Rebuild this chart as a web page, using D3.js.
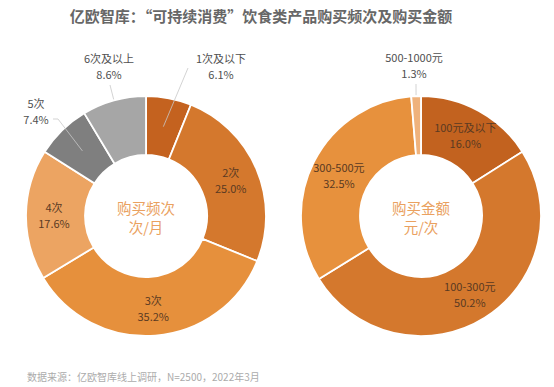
<!DOCTYPE html>
<html>
    <head>
        <meta charset="utf-8">
        <script src="https://d3js.org/d3.v7.js"></script>
        <style>
            body{
                margin: 0;
                background: #fff;
            }
            text{
                font-family: "Noto Sans CJK SC", "Noto Sans", sans-serif;
            }
        </style>
    </head>
    <body>
        <div class='graph'></div>
        <script>
            // 购买频次
            const freqLabels = ['1次及以下', '2次', '3次', '4次', '5次', '6次及以上']
            const freqValues = [6.1, 25.0, 35.2, 17.6, 7.4, 8.6]
            // 购买金额
            const amountLabels = ['100元及以下', '100-300元', '300-500元', '500-1000元']
            const amountValues = [16.0, 50.2, 32.5, 1.3]

            const w = 554
            const h = 387

            const svg = d3.select('.graph')
                    .append('svg')
                    .attr('width', w)
                    .attr('height', h)

            svg.append('text')
                .attr('x', 261)
                .attr('y', 22)
                .attr('text-anchor', 'middle')
                .style('font-size', '15px')
                .style('font-weight', 'bold')
                .style('fill', '#676767')
                .text('亿欧智库：“可持续消费”饮食类产品购买频次及购买金额')

            svg.append('text')
                .attr('x', 27)
                .attr('y', 381)
                .style('font-size', '10px')
                .style('fill', '#ababab')
                .text('数据来源：亿欧智库线上调研，N=2500，2022年3月')

            const outerR = 120
            const innerR = 61

            // callouts for slices that are labelled outside the ring
            // start: radius where the leader begins, pos: offset of label from centre
            const callouts = {
                '1次及以下': {start: 91, pts: [[42, -148]], pos: [75, -153]},
                '6次及以上': {start: 121, pts: [[-36, -131]], pos: [-37, -153]},
                '5次': {start: 91, pts: [[-88, -97], [-93, -97]], pos: [-110, -108]},
                '500-1000元': {start: 121, pts: [[-5, -132]], pos: [-7, -154]}
            }

            function donut(cx, cy, labels, values, colours, title, sub, textColours){
                const g = svg.append('g')
                    .attr('transform', 'translate(' + cx + ',' + cy + ')')

                const pie = d3.pie().sort(null).value(d => d.value)
                const arc = d3.arc().innerRadius(innerR).outerRadius(outerR)
                const data = pie(labels.map((l, i) => ({label: l, value: values[i]})))
                const colour = d3.scaleOrdinal().domain(labels).range(colours)

                g.selectAll('path')
                    .data(data)
                    .enter()
                    .append('path')
                    .attr('d', arc)
                    .style('fill', d => colour(d.data.label))
                    .style('stroke', '#fff')
                    .style('stroke-width', 1.8)

                const mid = d3.arc().innerRadius(92).outerRadius(92)

                data.forEach(d => {
                    const c = callouts[d.data.label]
                    let x, y
                    if (c){
                        const a = (d.startAngle + d.endAngle) / 2
                        const s = [Math.sin(a) * c.start, -Math.cos(a) * c.start]
                        g.append('polyline')
                            .attr('points', [s].concat(c.pts).map(p => p.join(',')).join(' '))
                            .style('fill', 'none')
                            .style('stroke', '#c8c8c8')
                            .style('stroke-width', 0.8)
                        x = c.pos[0]
                        y = c.pos[1]
                    } else {
                        [x, y] = mid.centroid(d)
                        y -= 3
                    }
                    const t = g.append('text')
                        .attr('text-anchor', 'middle')
                        .style('font-size', '11px')
                        .style('fill', c ? '#505050' : textColours)
                    t.append('tspan').attr('x', x).attr('y', y).text(d.data.label)
                    t.append('tspan').attr('x', x).attr('y', y + 16).text(d.data.value.toFixed(1) + '%')
                })

                g.append('text')
                    .attr('text-anchor', 'middle')
                    .attr('y', -2)
                    .style('font-size', '14.5px')
                    .style('fill', '#eaa160')
                    .text(title)
                g.append('text')
                    .attr('text-anchor', 'middle')
                    .attr('y', 17)
                    .style('font-size', '14.5px')
                    .style('fill', '#eaa160')
                    .text(sub)
            }

            donut(146, 216, freqLabels, freqValues,
                ['#c4621f', '#d4782d', '#e6903c', '#eca462', '#7f7f7f', '#a6a6a6'],
                '购买频次', '次/月', '#5a3a22')

            donut(421, 216, amountLabels, amountValues,
                ['#c2621f', '#d4782d', '#e7913d', '#efb27c'],
                '购买金额', '元/次', '#5a3a22')
        </script>
    </body>
</html>
